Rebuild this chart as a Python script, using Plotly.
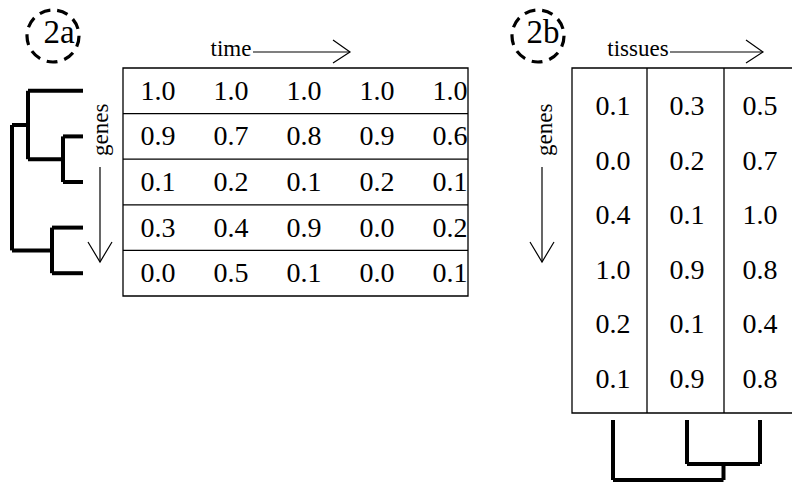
import plotly.graph_objects as go

# ---------------- data ----------------
time_values = [
    [1.0, 1.0, 1.0, 1.0, 1.0],
    [0.9, 0.7, 0.8, 0.9, 0.6],
    [0.1, 0.2, 0.1, 0.2, 0.1],
    [0.3, 0.4, 0.9, 0.0, 0.2],
    [0.0, 0.5, 0.1, 0.0, 0.1],
]
tissue_values = [
    [0.1, 0.3, 0.5],
    [0.0, 0.2, 0.7],
    [0.4, 0.1, 1.0],
    [1.0, 0.9, 0.8],
    [0.2, 0.1, 0.4],
    [0.1, 0.9, 0.8],
]
# dendrogram merges: (child_a, child_b, height); ids >= n_leaves are clusters
gene_merges = [(1, 2, 20), (3, 4, 31), (0, 5, 55), (7, 6, 71)]
tissue_merges = [(1, 2, 44), (0, 3, 60)]
panel_labels = ["2a", "2b"]
axis_labels = ["time", "tissues", "genes"]

# ---------------- layout constants ----------------
W, H = 792, 482
FONT = "Liberation Serif"
BLACK = "black"

fig = go.Figure()
shapes = []


def line(x0, y0, x1, y1, w=1.3):
    shapes.append(dict(type="line", x0=x0, y0=y0, x1=x1, y1=y1,
                       line=dict(color=BLACK, width=w)))


def text_trace(xs, ys, texts, size):
    fig.add_trace(go.Scatter(x=xs, y=ys, text=texts, mode="text",
                             textposition="middle center",
                             textfont=dict(family=FONT, size=size, color=BLACK),
                             hoverinfo="skip", showlegend=False))


def dendro(leaf_pos, merges, leaf_base, sign, orient):
    """Draw dendrogram; orient 'h' -> leaves along y, heights along x."""
    n = len(leaf_pos)
    pos = list(leaf_pos)
    hgt = [0] * n
    xs, ys = [], []
    for a, b, h in merges:
        for c in (a, b):
            p0 = leaf_base + sign * hgt[c]
            p1 = leaf_base + sign * h
            if orient == "h":
                xs += [p0, p1, None]; ys += [pos[c], pos[c], None]
            else:
                xs += [pos[c], pos[c], None]; ys += [p0, p1, None]
        if orient == "h":
            xs += [leaf_base + sign * h] * 2 + [None]
            ys += [pos[a], pos[b], None]
        else:
            xs += [pos[a], pos[b], None]
            ys += [leaf_base + sign * h] * 2 + [None]
        pos.append((pos[a] + pos[b]) / 2)
        hgt.append(h)
    fig.add_trace(go.Scatter(x=xs, y=ys, mode="lines",
                             line=dict(color=BLACK, width=4),
                             hoverinfo="skip", showlegend=False))


# ---------------- panel 2a ----------------
tx0, tx1, ty0, ty1 = 123, 468, 68, 296
nr = len(time_values)
rh = (ty1 - ty0) / nr
shapes.append(dict(type="rect", x0=tx0, x1=tx1, y0=ty0, y1=ty1,
                   line=dict(color=BLACK, width=1.3)))
for i in range(1, nr):
    line(tx0, ty0 + i * rh, tx1, ty0 + i * rh)
xs, ys, ts = [], [], []
for i, row in enumerate(time_values):
    for j, v in enumerate(row):
        xs.append(158 + 73 * j)
        ys.append(ty0 + (i + 0.5) * rh + 2)
        ts.append(f"{v:.1f}")
text_trace(xs, ys, ts, 28)
# leaves at row centres
dendro([ty0 + (i + 0.5) * rh for i in range(nr)], gene_merges, 83, -1, "h")

# ---------------- panel 2b ----------------
bx0, bx1, by0, by1 = 572, 800, 68, 413
shapes.append(dict(type="rect", x0=bx0, x1=bx1, y0=by0, y1=by1,
                   line=dict(color=BLACK, width=1.3)))
line(647, by0, 647, by1)
line(724, by0, 724, by1)
col_c = [613, 687, 760]
xs, ys, ts = [], [], []
for i, row in enumerate(tissue_values):
    for j, v in enumerate(row):
        xs.append(col_c[j])
        ys.append(108 + 54.6 * i)
        ts.append(f"{v:.1f}")
text_trace(xs, ys, ts, 28)
dendro(col_c, tissue_merges, 420, 1, "v")

# ---------------- labels, arrows, circles ----------------
for (cx, tx, lab) in [(53, 59, panel_labels[0]), (538, 543, panel_labels[1])]:
    shapes.append(dict(type="circle", x0=cx - 26, x1=cx + 26, y0=10, y1=62,
                       line=dict(color=BLACK, width=3.2, dash="11px,7px")))
    text_trace([tx], [35], [lab], 33)

text_trace([231], [50], [axis_labels[0]], 23)
text_trace([638], [50], [axis_labels[1]], 23)
# horizontal arrows
for (xa, xb) in [(253, 350), (670, 763)]:
    line(xa, 52, xb, 52, 1.2)
    shapes.append(dict(type="path", path=f"M {xb-17},40 L {xb},52 L {xb-17},63",
                       line=dict(color=BLACK, width=1.2)))
# vertical arrows
annotations = []
for xg in (100, 544):
    annotations.append(dict(x=xg, y=130, xref="x", yref="y", text=axis_labels[2],
                            showarrow=False, textangle=-90,
                            font=dict(family=FONT, size=23, color=BLACK)))
for xg in (100, 542):
    line(xg, 167, xg, 262, 1.2)
    shapes.append(dict(type="path", path=f"M {xg-12},242 L {xg},262 L {xg+12},242",
                       line=dict(color=BLACK, width=1.2)))

fig.update_layout(
    width=W, height=H, margin=dict(l=0, r=0, t=0, b=0),
    paper_bgcolor="white", plot_bgcolor="white",
    xaxis=dict(range=[0, W], visible=False, fixedrange=True),
    yaxis=dict(range=[H, 0], visible=False, fixedrange=True),
    shapes=shapes, annotations=annotations,
)
fig.write_html("out.html", config={"displayModeBar": False},
               post_script="document.body.style.margin='0';document.body.style.overflow='hidden';")
